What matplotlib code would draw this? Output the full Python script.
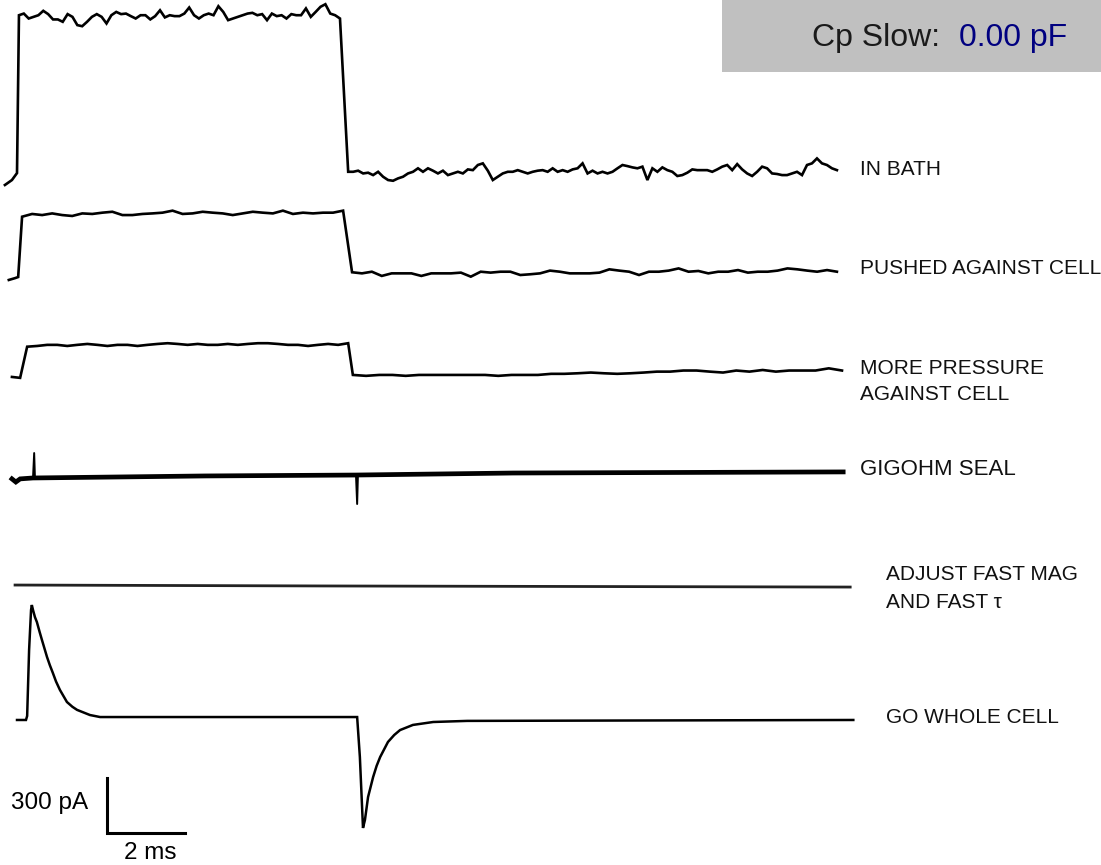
import numpy as np
import matplotlib

matplotlib.use("agg")
import matplotlib.pyplot as plt
from matplotlib.patches import Rectangle

# ------------------------------------------------------------------
# data (time in ms, current in pA, each relative to its own baseline)
# ------------------------------------------------------------------

labels = [
    "IN BATH",
    "PUSHED AGAINST CELL",
    "MORE PRESSURE\nAGAINST CELL",
    "GIGOHM SEAL",
    "ADJUST FAST MAG\nAND FAST τ",
    "GO WHOLE CELL",
]

# IN BATH
bath_pre_t = [-0.13, 0.05, 0.18]
bath_pre_i = [-16, 11, 49]
bath_on = (0.23, 8.46)
bath_top = [910, 919, 892, 901, 910, 934, 916, 887, 887, 874, 916, 901, 856, 850,
            874, 901, 916, 901, 865, 910, 928, 916, 919, 905, 892, 910, 910, 887,
            905, 937, 898, 910, 905, 905, 919, 952, 910, 892, 910, 919, 910, 959,
            928, 883, 892, 901, 910, 919, 923, 910, 916, 883, 919, 905, 910, 892,
            916, 910, 910, 947, 901, 928, 956, 970, 919, 910, 892]
bath_off = (8.67, 21.2)
bath_tail = [56, 56, 62, 47, 51, 38, 56, 29, 11, 7, 20, 29, 47, 56, 75, 56, 75, 62,
             47, 62, 38, 47, 56, 47, 69, 65, 93, 102, 62, 11, 29, 47, 56, 56, 65, 56,
             47, 56, 62, 65, 56, 75, 56, 65, 56, 69, 75, 102, 47, 62, 47, 56, 47, 56,
             75, 93, 87, 80, 75, 84, 11, 75, 56, 80, 65, 56, 33, 38, 51, 69, 65, 65,
             65, 56, 69, 84, 93, 65, 98, 69, 47, 33, 56, 84, 75, 47, 44, 38, 38, 47,
             56, 38, 93, 102, 129, 102, 93, 75, 65]

# PUSHED AGAINST CELL
push_pre_t = [-0.03, 0.13, 0.21]
push_pre_i = [-5, 5, 11]
push_on = (0.31, 8.54)
push_top = [340, 355, 349, 358, 349, 344, 358, 355, 362, 367, 349, 349, 355, 358,
            362, 373, 355, 358, 367, 362, 358, 349, 358, 367, 362, 358, 373, 355,
            362, 358, 362, 362, 373]
push_off = (8.77, 21.2)
push_tail = [37, 31, 40, 17, 31, 31, 31, 17, 31, 31, 31, 35, 13, 40, 35, 40, 40, 22,
             26, 31, 46, 40, 31, 31, 31, 35, 53, 46, 40, 22, 40, 40, 46, 58, 40, 44,
             31, 40, 40, 49, 35, 40, 40, 46, 58, 53, 46, 40, 49, 40]

# MORE PRESSURE AGAINST CELL
more_pre_t = [0.05, 0.26]
more_pre_i = [0, -5]
more_on = (0.44, 8.67)
more_top = [165, 169, 175, 175, 169, 175, 180, 175, 169, 175, 175, 169, 175, 180,
            184, 180, 175, 180, 175, 175, 180, 175, 180, 184, 184, 180, 175, 175,
            169, 175, 180, 175, 184]
more_off = (8.79, 21.33)
more_tail = [11, 6, 11, 11, 6, 11, 11, 11, 11, 11, 11, 6, 11, 11, 11, 17, 17, 20, 24,
             20, 17, 20, 24, 29, 29, 35, 35, 29, 24, 35, 29, 38, 29, 35, 35, 35, 47, 35]

# GIGOHM SEAL: slow baseline plus the two capacitive spikes
seal_t = [0.05, 0.15, 0.26, 0.59, 5.0, 8.87, 12.9, 21.36]
seal_i = [-5, -22, -5, 0, 11, 16, 27, 33]
seal_spike_t = [0.59, 0.62, 0.64, 8.87, 8.90, 8.92]
seal_spike_i = [0, 136, 0, 16, -142, 16]

# ADJUST FAST MAG AND FAST TAU
adj_t = [0.13, 8.0, 21.54]
adj_i = [0, -5, -11]

# GO WHOLE CELL
wc_t = [0.18, 0.41, 0.44, 0.49, 0.54, 0.56, 0.59, 0.64, 0.69, 0.76, 0.82, 0.95,
        1.02, 1.10, 1.18, 1.28, 1.46, 1.60, 1.72, 2.05, 2.31, 4.87, 8.90, 8.97,
        9.05, 9.10, 9.18, 9.31, 9.40, 9.49, 9.69, 9.85, 10.0, 10.33, 10.85, 11.72,
        21.62]
wc_i = [0, 0, 22, 382, 600, 627, 600, 561, 534, 480, 436, 343, 300, 256, 210, 164,
        98, 72, 55, 27, 16, 16, 16, -202, -589, -545, -420, -311, -250, -202, -120,
        -82, -55, -27, -11, -5, 0]

scale_ms = 2
scale_pa = 300


def step_trace(pre_t, pre_i, on, top, off, tail):
    t = np.concatenate([pre_t, np.linspace(on[0], on[1], len(top)),
                        np.linspace(off[0], off[1], len(tail))])
    i = np.concatenate([pre_i, top, tail])
    return t, i


traces = [
    step_trace(bath_pre_t, bath_pre_i, bath_on, bath_top, bath_off, bath_tail),
    step_trace(push_pre_t, push_pre_i, push_on, push_top, push_off, push_tail),
    step_trace(more_pre_t, more_pre_i, more_on, more_top, more_off, more_tail),
    (np.array(seal_t), np.array(seal_i)),
    (np.array(adj_t), np.array(adj_i)),
    (np.array(wc_t), np.array(wc_i)),
]

# ------------------------------------------------------------------
# layout
# ------------------------------------------------------------------

offsets = [3725, 3196, 2662, 2111, 1527, 791]
widths = [1.9, 1.9, 1.9, 3.4, 2.0, 1.8]
colors = ["black", "black", "black", "black", "#222222", "black"]
label_x = [21.8, 21.8, 21.8, 21.8, 22.45, 22.45]
label_y = [3796, 3256, 2637, 2155, 1508, 802]
label_size = [15, 15, 15, 16, 15, 15]
label_ls = [1.0, 1.0, 1.5, 1.0, 1.6, 1.0]
sans = ["Liberation Sans", "DejaVu Sans"]

fig = plt.figure(figsize=(11.01, 8.65), dpi=100)
ax = fig.add_axes([0, 0, 1, 1])
ax.set_xlim(-0.256, 27.97)
ax.set_ylim(0, 4718)
ax.set_axis_off()

for (t, i), off, lw, c in zip(traces, offsets, widths, colors):
    ax.plot(t, i + off, color=c, lw=lw, solid_joinstyle="miter")
ax.plot(seal_spike_t, np.array(seal_spike_i) + offsets[3], color="black", lw=1.4)

for lab, x, y, fs, ls in zip(labels, label_x, label_y, label_size, label_ls):
    ax.text(x, y, lab, family=sans, fontsize=fs, va="center", ha="left",
            linespacing=ls, color="#111111")

# scale bar
sb_x, sb_y = 2.49, 175
ax.plot([sb_x, sb_x, sb_x + scale_ms], [sb_y + scale_pa, sb_y, sb_y],
        color="black", lw=2.2, solid_joinstyle="miter")
ax.text(sb_x - 0.49, sb_y + scale_pa * 0.54, f"{scale_pa} pA", family=sans,
        fontsize=17.5, ha="right", va="center")
ax.text(sb_x + scale_ms / 2 + 0.1, 65, f"{scale_ms} ms", family=sans,
        fontsize=17.5, ha="center", va="center")

# amplifier readout box
fig.patches.append(Rectangle((722 / 1101, 1 - 72 / 865), 1 - 722 / 1101, 72 / 865,
                             transform=fig.transFigure, facecolor="#c0c0c0",
                             edgecolor="none", zorder=0))
fig.text(812 / 1101, 1 - 38 / 865, "Cp Slow:", family=sans, fontsize=23,
         color="#1a1a1a", ha="left", va="center")
fig.text(959 / 1101, 1 - 38 / 865, "0.00 pF", family=sans, fontsize=23,
         color="#000080", ha="left", va="center")

fig.savefig("out.png", dpi=100, facecolor="white")
plt.close(fig)
